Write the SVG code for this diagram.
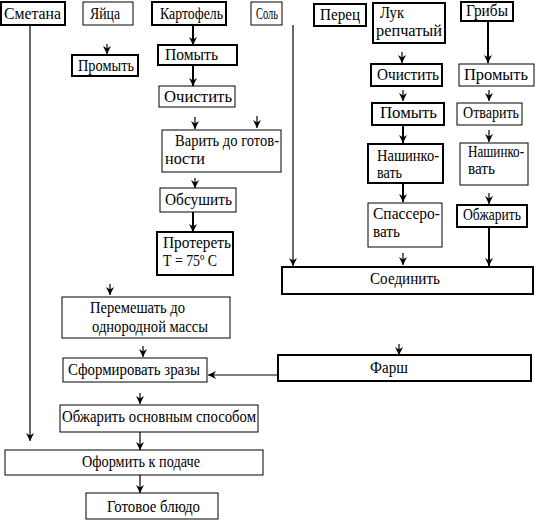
<svg xmlns="http://www.w3.org/2000/svg" width="538" height="520" viewBox="0 0 538 520">
<style>
.b{fill:#fff;stroke:#000;stroke-width:1}
.bt{fill:#fff;stroke:#000;stroke-width:2}
text{font-family:'Liberation Serif','DejaVu Serif','Times New Roman',serif;font-size:16px;fill:#000}
.c line{stroke:#000;stroke-width:1.2;fill:none}
.c line.t{stroke-width:2}
</style>
<defs>
<marker id="ah" markerUnits="userSpaceOnUse" markerWidth="8" markerHeight="8" viewBox="0 0 8 8" refX="8" refY="4" orient="auto">
<path d="M0,0 L8,4 L0,8 L2.5,4 z" fill="#000"/>
</marker>
</defs>
<rect width="538" height="520" fill="#fff"/>
<g class="c" id="connectors">
<line x1="107" y1="44" x2="107" y2="54" marker-end="url(#ah)"/>
<line class="t" x1="193" y1="25" x2="193" y2="45" marker-end="url(#ah)"/>
<line class="t" x1="193" y1="65" x2="193" y2="86" marker-end="url(#ah)"/>
<line x1="195" y1="117" x2="195" y2="129" marker-end="url(#ah)"/>
<line x1="257" y1="116" x2="257" y2="128" marker-end="url(#ah)"/>
<line x1="195" y1="178" x2="195" y2="188" marker-end="url(#ah)"/>
<line class="t" x1="193" y1="212" x2="193" y2="232" marker-end="url(#ah)"/>
<line x1="293" y1="25" x2="293" y2="266" marker-end="url(#ah)"/>
<line x1="402" y1="52" x2="402" y2="63" marker-end="url(#ah)"/>
<line class="t" x1="488" y1="21" x2="488" y2="63" marker-end="url(#ah)"/>
<line x1="403" y1="90" x2="403" y2="101" marker-end="url(#ah)"/>
<line x1="489" y1="90" x2="489" y2="101" marker-end="url(#ah)"/>
<line class="t" x1="403" y1="125" x2="403" y2="143" marker-end="url(#ah)"/>
<line x1="489" y1="130" x2="489" y2="142" marker-end="url(#ah)"/>
<line class="t" x1="403" y1="183" x2="403" y2="202" marker-end="url(#ah)"/>
<line x1="489" y1="193" x2="489" y2="204" marker-end="url(#ah)"/>
<line class="t" x1="489" y1="227" x2="489" y2="266" marker-end="url(#ah)"/>
<line x1="403" y1="253" x2="403" y2="265" marker-end="url(#ah)"/>
<line x1="30" y1="25" x2="30" y2="441" marker-end="url(#ah)"/>
<line x1="110" y1="284" x2="110" y2="295" marker-end="url(#ah)"/>
<line x1="143" y1="346" x2="143" y2="357" marker-end="url(#ah)"/>
<line x1="399" y1="344" x2="399" y2="355" marker-end="url(#ah)"/>
<line x1="278" y1="375" x2="208" y2="375" marker-end="url(#ah)"/>
<line x1="140" y1="393" x2="140" y2="404" marker-end="url(#ah)"/>
<line x1="140" y1="432" x2="140" y2="450" marker-end="url(#ah)"/>
<line x1="140" y1="475" x2="140" y2="493" marker-end="url(#ah)"/>
</g>
<g id="smetana"><rect class="bt" x="1" y="2" width="64" height="23"/><text x="4" y="19" textLength="57" lengthAdjust="spacingAndGlyphs">Сметана</text></g>
<g id="yaitsa"><rect class="b" x="83" y="2" width="50" height="23"/><text x="90" y="19" textLength="30" lengthAdjust="spacingAndGlyphs">Яйца</text></g>
<g id="kartofel"><rect class="bt" x="152" y="2" width="74" height="23"/><text x="160" y="19" textLength="63" lengthAdjust="spacingAndGlyphs">Картофель</text></g>
<g id="sol"><rect class="b" x="251" y="2" width="31" height="23"/><text x="256" y="19" textLength="22" lengthAdjust="spacingAndGlyphs">Соль</text></g>
<g id="perets"><rect class="bt" x="314" y="4" width="52" height="22"/><text x="320" y="20" textLength="40" lengthAdjust="spacingAndGlyphs">Перец</text></g>
<g id="luk"><rect class="bt" x="373" y="3" width="72" height="40"/><text x="380" y="18" textLength="24" lengthAdjust="spacingAndGlyphs">Лук</text><text x="376" y="36" textLength="66" lengthAdjust="spacingAndGlyphs">репчатый</text></g>
<g id="griby"><rect class="bt" x="461" y="2" width="52" height="19"/><text x="466" y="16" textLength="42" lengthAdjust="spacingAndGlyphs">Грибы</text></g>
<g id="promyt1"><rect class="bt" x="72" y="55" width="66" height="21"/><text x="78" y="71" textLength="56" lengthAdjust="spacingAndGlyphs">Промыть</text></g>
<g id="pomyt1"><rect class="bt" x="158" y="45" width="79" height="20"/><text x="165" y="60" textLength="53" lengthAdjust="spacingAndGlyphs">Помыть</text></g>
<g id="ochistit1"><rect class="b" x="159" y="86" width="76" height="21"/><text x="164" y="102" textLength="68" lengthAdjust="spacingAndGlyphs">Очистить</text></g>
<g id="varit"><rect class="b" x="162" y="130" width="119" height="42"/><text x="175" y="146" textLength="104" lengthAdjust="spacingAndGlyphs">Варить до готов-</text><text x="165" y="164" textLength="40" lengthAdjust="spacingAndGlyphs">ности</text></g>
<g id="obsushit"><rect class="b" x="160" y="188" width="76" height="24"/><text x="165" y="205" textLength="67" lengthAdjust="spacingAndGlyphs">Обсушить</text></g>
<g id="proteret"><rect class="bt" x="157" y="232" width="76" height="43"/><text x="163" y="248" textLength="68" lengthAdjust="spacingAndGlyphs">Протереть</text><text x="163" y="266" textLength="54" lengthAdjust="spacingAndGlyphs">Т = 75º С</text></g>
<g id="ochistit2"><rect class="bt" x="371" y="64" width="71" height="22"/><text x="377" y="80" textLength="62" lengthAdjust="spacingAndGlyphs">Очистить</text></g>
<g id="promyt2"><rect class="b" x="459" y="64" width="75" height="22"/><text x="464" y="80" textLength="64" lengthAdjust="spacingAndGlyphs">Промыть</text></g>
<g id="pomyt2"><rect class="bt" x="372" y="103" width="72" height="22"/><text x="380" y="118" textLength="57" lengthAdjust="spacingAndGlyphs">Помыть</text></g>
<g id="otvarit"><rect class="b" x="457" y="103" width="65" height="22"/><text x="463" y="118" textLength="56" lengthAdjust="spacingAndGlyphs">Отварить</text></g>
<g id="nashink1"><rect class="bt" x="368" y="144" width="75" height="39"/><text x="377" y="161" textLength="62" lengthAdjust="spacingAndGlyphs">Нашинко-</text><text x="377" y="178" textLength="25" lengthAdjust="spacingAndGlyphs">вать</text></g>
<g id="nashink2"><rect class="b" x="460" y="143" width="68" height="42"/><text x="468" y="157" textLength="56" lengthAdjust="spacingAndGlyphs">Нашинко-</text><text x="468" y="174" textLength="27" lengthAdjust="spacingAndGlyphs">вать</text></g>
<g id="spasser"><rect class="b" x="368" y="203" width="74" height="44"/><text x="373" y="219" textLength="67" lengthAdjust="spacingAndGlyphs">Спассеро-</text><text x="373" y="237" textLength="27" lengthAdjust="spacingAndGlyphs">вать</text></g>
<g id="obzharit1"><rect class="bt" x="457" y="205" width="70" height="22"/><text x="463" y="220" textLength="58" lengthAdjust="spacingAndGlyphs">Обжарить</text></g>
<g id="soedinit"><rect class="bt" x="282" y="267" width="251" height="27"/><text x="370" y="284" textLength="70" lengthAdjust="spacingAndGlyphs">Соединить</text></g>
<g id="peremeshat"><rect class="b" x="62" y="297" width="168" height="41"/><text x="90" y="313" textLength="95" lengthAdjust="spacingAndGlyphs">Перемешать до</text><text x="92" y="332" textLength="116" lengthAdjust="spacingAndGlyphs">однородной массы</text></g>
<g id="sformirovat"><rect class="b" x="63" y="358" width="144" height="24"/><text x="68" y="375" textLength="132" lengthAdjust="spacingAndGlyphs">Сформировать зразы</text></g>
<g id="farsh"><rect class="bt" x="278" y="355" width="253" height="26"/><text x="370" y="373" textLength="38" lengthAdjust="spacingAndGlyphs">Фарш</text></g>
<g id="obzharit2"><rect class="b" x="60" y="405" width="198" height="27"/><text x="62" y="422" textLength="194" lengthAdjust="spacingAndGlyphs">Обжарить основным способом</text></g>
<g id="oformit"><rect class="b" x="5" y="450" width="258" height="25"/><text x="82" y="467" textLength="118" lengthAdjust="spacingAndGlyphs">Оформить к подаче</text></g>
<g id="gotovoe"><rect class="b" x="86" y="493" width="132" height="26"/><text x="107" y="512" textLength="93" lengthAdjust="spacingAndGlyphs">Готовое блюдо</text></g>
</svg>
